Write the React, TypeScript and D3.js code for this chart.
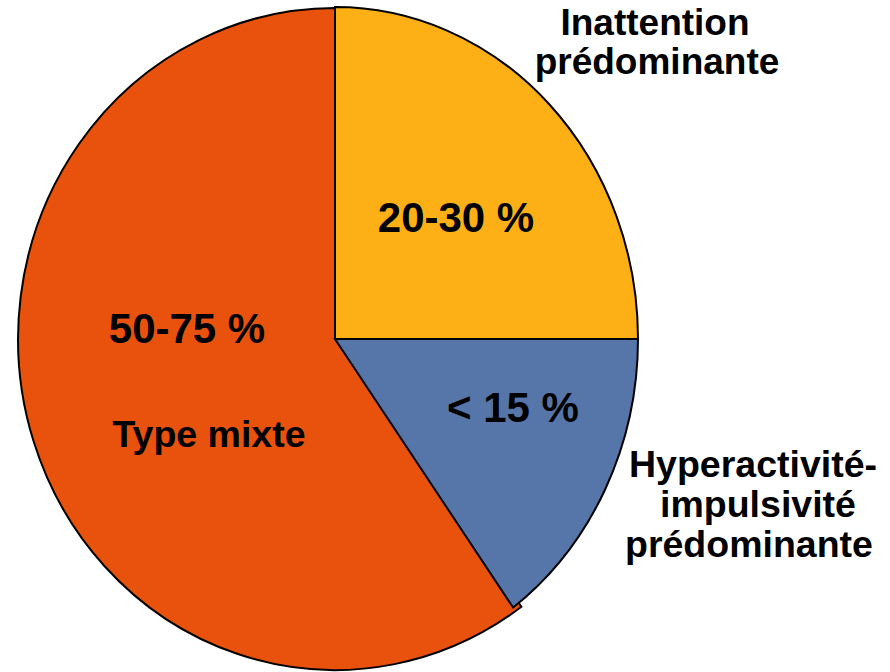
import React from "react";
import * as d3 from "d3";

const categories = ["Inattention prédominante", "Hyperactivité-impulsivité prédominante", "Type mixte"];
const values = [25, 15, 60];
const colors = ["#FDB016", "#5676A9", "#E9520D"];
const percentLabels = ["20-30 %", "< 15 %", "50-75 %"];

const W = 890;
const H = 672;
const cx = 335;
const cy = 339;
// per-slice radii (the reference pie is slightly elliptical, orange slice larger)
const radii: [number, number][] = [
  [303, 332],
  [303, 332],
  [317, 331],
];

export default function App() {
  const pie = d3.pie<number>().sort(null).startAngle(0).endAngle(2 * Math.PI);
  const arcs = pie(values);
  const arc = d3.arc<d3.PieArcDatum<number>>().innerRadius(0).outerRadius(1);
  const order = [2, 0, 1];
  const font = "'Liberation Sans', Arial, Helvetica, sans-serif";
  return (
    <svg
      width={W}
      height={H}
      style={{ position: "absolute", left: 0, top: 0, background: "#fff" }}
    >
      <g transform={`translate(${cx},${cy})`}>
        {order.map((i) => (
          <path
            key={categories[i]}
            d={arc(arcs[i]) || ""}
            transform={`scale(${radii[i][0]},${radii[i][1]})`}
            fill={colors[i]}
            stroke="#000"
            strokeWidth={2}
            strokeLinejoin="miter"
            vectorEffect="non-scaling-stroke"
          />
        ))}
      </g>
      <g fontFamily={font} fontWeight="bold" fill="#000" textAnchor="middle">
        <text x={456} y={232} fontSize={42}>{percentLabels[0]}</text>
        <text x={513} y={422} fontSize={42}>{percentLabels[1]}</text>
        <text x={187} y={343} fontSize={42}>{percentLabels[2]}</text>
        <text x={209} y={447} fontSize={37.5}>Type mixte</text>
        <text x={655} y={35} fontSize={37}>Inattention</text>
        <text x={657} y={74} fontSize={37}>prédominante</text>
        <text x={753} y={477} fontSize={37.5}>Hyperactivité-</text>
        <text x={758} y={517} fontSize={37.5}>impulsivité</text>
        <text x={749} y={557} fontSize={37.5}>prédominante</text>
      </g>
    </svg>
  );
}
